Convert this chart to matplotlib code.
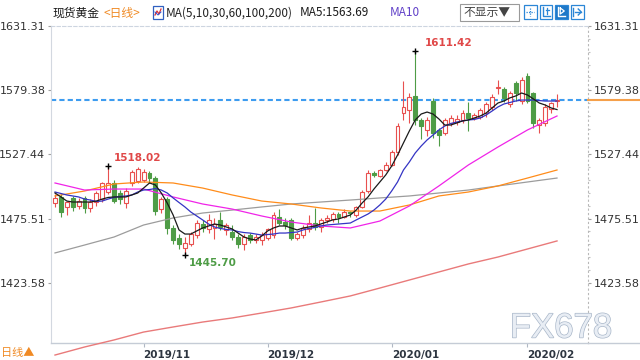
import numpy as np
import matplotlib
matplotlib.use('Agg')
import matplotlib.pyplot as plt
from matplotlib.patches import Rectangle
from matplotlib.lines import Line2D
import matplotlib.patheffects as pe
import matplotlib.transforms as mtransforms

plt.rcParams['font.family'] = ['DejaVu Sans']
CJK = ['Noto Sans CJK SC', 'DejaVu Sans']

# ---------------- data ----------------
title_name = "现货黄金"
period_text = "<日线>"
ma_spec = "MA(5,10,30,60,100,200)"
ma5_text = "MA5:1563.69"
ma10_text = "MA10"
btn_text = "不显示▼"
bottom_text = "日线▲"
watermark = "FX678"

month_labels = ["2019/11", "2019/12", "2020/01", "2020/02"]
month_idx = [15, 36, 57, 80]
ytick_vals = [1423.58, 1475.51, 1527.44, 1579.38, 1631.31]
ytick_labels = ["1423.58", "1475.51", "1527.44", "1579.38", "1631.31"]
last_price = 1571.4

opens = [1488, 1493, 1485, 1492, 1486, 1492, 1484, 1489, 1491, 1497,
         1504, 1496, 1488, 1504, 1506, 1507, 1512, 1508, 1483, 1491,
         1468, 1460, 1452, 1455, 1462, 1471, 1467, 1468, 1474, 1466,
         1465, 1461, 1455, 1462, 1458, 1458, 1460, 1462, 1477, 1473,
         1474, 1460, 1462, 1467, 1472, 1469, 1474, 1475, 1479, 1477,
         1481, 1478, 1485, 1498, 1512, 1510, 1515, 1519, 1529, 1561,
         1563, 1575, 1555, 1547, 1571, 1547, 1545, 1553, 1554, 1555,
         1561, 1557, 1558, 1561, 1566, 1581, 1580, 1568, 1585, 1571,
         1591, 1577, 1551, 1553, 1564, 1571]
highs = [1495, 1495, 1490, 1494, 1492, 1494, 1491, 1498, 1505, 1518.02,
         1507, 1499, 1500, 1515, 1517, 1516, 1514, 1510, 1493, 1493,
         1470, 1463, 1461, 1465, 1474, 1474, 1479, 1476, 1481, 1472,
         1470, 1463, 1463, 1464, 1463, 1465, 1468, 1481, 1483, 1476,
         1476, 1465, 1470, 1478, 1484, 1476, 1478, 1481, 1481, 1483,
         1482, 1486, 1499, 1515, 1514, 1516, 1521, 1531, 1553, 1587,
         1577, 1611.42, 1557, 1558, 1573, 1549, 1557, 1559, 1559, 1563,
         1570, 1561, 1565, 1570, 1576, 1588, 1582, 1579, 1587, 1590,
         1593, 1578, 1557, 1568, 1570, 1576]
lows = [1485, 1477, 1478, 1482, 1483, 1480, 1481, 1486, 1489, 1495,
        1488, 1487, 1484, 1502, 1504, 1505, 1504, 1478, 1480, 1463,
        1455, 1451, 1445.70, 1453, 1460, 1465, 1464, 1459, 1466, 1462,
        1458, 1452, 1450, 1456, 1456, 1454, 1458, 1460, 1470, 1467,
        1458, 1458, 1460, 1465, 1466, 1465, 1472, 1473, 1472, 1476,
        1477, 1477, 1484, 1496, 1509, 1509, 1514, 1518, 1527, 1555,
        1553, 1551, 1540, 1542, 1541, 1534, 1543, 1550, 1551, 1553,
        1546, 1555, 1556, 1558, 1563, 1576, 1570, 1566, 1571, 1568,
        1569, 1549, 1545, 1550, 1561, 1566]
closes = [1492, 1481, 1489, 1485, 1490, 1484, 1489, 1496, 1504, 1504,
          1490, 1491, 1498, 1513, 1516, 1513, 1508, 1482, 1491, 1468,
          1458, 1455, 1456, 1463, 1472, 1468, 1474, 1471, 1469, 1470,
          1461, 1455, 1461, 1458, 1461, 1462, 1467, 1478, 1472, 1470,
          1460, 1463, 1468, 1472, 1469, 1474, 1476, 1479, 1477, 1481,
          1480, 1485, 1497, 1512, 1511, 1515, 1519, 1529, 1550, 1566,
          1574, 1555, 1550, 1555, 1545, 1543, 1555, 1557, 1556, 1561,
          1557, 1559, 1563, 1568, 1574, 1582, 1573, 1577, 1577, 1588,
          1571, 1553, 1555, 1566, 1569, 1571.4]

# MA5 / MA10 read at every candle
ma5 = [1496.2, 1493.0, 1489.7, 1488.9, 1488.9, 1488.9, 1488.9, 1489.7, 1491.3, 1492.6,
       1493.0, 1493.0, 1493.0, 1494.6, 1496.2, 1500.2, 1504.3, 1502.7, 1496.2, 1488.1,
       1478.4, 1466.3, 1463.0, 1463.0, 1465.5, 1467.9, 1469.5, 1471.1, 1470.3, 1468.7,
       1467.1, 1463.8, 1460.6, 1459.0, 1458.2, 1461.4, 1465.5, 1467.9, 1469.5, 1469.5,
       1467.9, 1466.3, 1467.9, 1468.7, 1469.5, 1471.1, 1472.7, 1474.4, 1475.2, 1476.8,
       1478.4, 1482.4, 1488.1, 1493.0, 1499.4, 1505.1, 1510.8, 1518.0, 1526.9, 1536.7,
       1546.4, 1555.3, 1560.1, 1561.7, 1560.1, 1556.1, 1551.2, 1551.2, 1552.8, 1554.5,
       1555.3, 1556.9, 1558.5, 1560.9, 1565.0, 1569.0, 1570.6, 1573.1, 1574.7, 1577.1,
       1575.5, 1572.3, 1569.0, 1567.4, 1565.0, 1563.69]
ma10 = [1497.0, 1495.8, 1494.6, 1493.8, 1493.0, 1491.3, 1490.5, 1489.3, 1489.7, 1491.3,
        1492.6, 1493.4, 1493.8, 1494.6, 1497.0, 1498.6, 1499.0, 1499.8, 1498.6, 1496.2,
        1492.2, 1488.5, 1484.9, 1480.8, 1477.6, 1474.4, 1471.1, 1468.7, 1467.5, 1466.7,
        1466.3, 1465.0, 1464.2, 1463.8, 1463.0, 1462.2, 1462.6, 1463.0, 1463.8, 1463.8,
        1464.2, 1464.6, 1466.3, 1467.5, 1468.3, 1469.5, 1470.3, 1470.7, 1471.1, 1471.5,
        1471.9, 1474.4, 1476.8, 1479.2, 1482.4, 1486.5, 1491.3, 1497.8, 1505.1, 1514.8,
        1521.3, 1528.6, 1534.2, 1539.1, 1543.1, 1547.2, 1550.4, 1552.4, 1553.6, 1554.5,
        1555.3, 1555.7, 1556.9, 1559.3, 1562.5, 1565.8, 1568.2, 1569.4, 1570.6, 1571.4,
        1571.4, 1571.4, 1571.0, 1570.6, 1570.6, 1570.6]
# long MAs read at every 5th candle (0, 5, ..., 85)
ma_step = 5
ma30 = [1504.3, 1498.6, 1499.4, 1499.4, 1493.0, 1487.3, 1483.2, 1477.6, 1472.7,
        1469.5, 1467.9, 1473.5, 1485.7, 1501.9, 1518.9, 1533.4, 1547.2, 1558.5]
ma60 = [1493.8, 1497.8, 1503.5, 1505.1, 1504.3, 1500.2, 1494.6, 1489.7, 1487.3,
        1484.1, 1481.6, 1481.6, 1486.5, 1493.8, 1497.0, 1501.9, 1508.3, 1514.8]
ma100 = [1447.7, 1454.1, 1460.6, 1470.3, 1476.0, 1480.0, 1482.4, 1484.9, 1487.3,
         1488.9, 1490.5, 1492.2, 1493.8, 1496.2, 1498.6, 1501.9, 1505.1, 1508.3]
ma200 = [1365.1, 1371.6, 1377.3, 1383.7, 1387.8, 1391.8, 1395.1, 1399.1, 1403.2,
         1408.0, 1412.9, 1419.3, 1425.8, 1432.3, 1438.8, 1444.4, 1450.9, 1457.4]

# ---------------- layout ----------------
W, H = 640, 360
L, R, T, B = 51, 588, 26, 343
X0, DX = 55, 5.906  # pixel of first candle, candle spacing


def fx(x):
    return x / W


def fy(y):
    return 1 - y / H


fig = plt.figure(figsize=(6.4, 3.6), dpi=100)
fig.patch.set_facecolor('white')
ax = fig.add_axes([fx(L), fy(B), (R - L) / W, (B - T) / H])
ax.set_facecolor('white')

n = len(closes)
idx = np.arange(n)
ax.set_xlim((L - X0) / DX, (R - X0) / DX)
ax.set_ylim(1631.31 - (B - T) / 1.236, 1631.31)

up_col = '#e8504f'
dn_col = '#4e9c46'
o = np.array(opens); c = np.array(closes)
hi = np.array(highs); lo = np.array(lows)
is_up = c >= o
cols = np.where(is_up, up_col, dn_col)

ax.axhline(last_price, color='#3d9cf0', lw=1.5, ls=(0, (2.5, 1.5)), zorder=1.5)

ax.vlines(idx, lo, hi, colors=cols, lw=0.8, zorder=2)
bottoms = np.minimum(o, c)
heights = np.maximum(np.abs(c - o), 0.25)
faces = np.where(is_up, 'white', dn_col)
ax.bar(idx, heights, 0.66, bottoms, color=faces, edgecolor=cols, linewidth=0.8, zorder=3)

idx_long = np.arange(0, n, ma_step)
ax.plot(idx_long, ma200, color='#e97a7a', lw=1.0, zorder=4, clip_on=False)
ax.plot(idx_long, ma100, color='#9c9c9c', lw=0.9, zorder=4)
ax.plot(idx_long, ma60, color='#ff8c1a', lw=0.9, zorder=4)
ax.plot(idx_long, ma30, color='#f024e8', lw=0.9, zorder=4)
ax.plot(idx, ma10, color='#3434c4', lw=0.9, zorder=5)
ax.plot(idx, ma5, color='#1a1a1a', lw=0.9, zorder=5)

# extreme markers
ext = [(9, 1518.02, '1518.02', '#e04848', (4.3, 5.8)),
       (61, 1611.42, '1611.42', '#e04848', (7.2, 5.8)),
       (22, 1445.70, '1445.70', '#4e9c46', (2.9, -5.8))]
for i, v, s, col, off in ext:
    ax.plot(i, v, marker='+', color='black', ms=5, mew=1, zorder=6)
    ax.annotate(s, (i, v), xytext=off, textcoords='offset points', color=col,
                fontsize=7.5, fontweight='bold', ha='left', va='center', zorder=7)

# spines
ax.spines['top'].set_linestyle((0, (3, 2)))
ax.spines['top'].set_color('#cdd5e0')
ax.spines['top'].set_linewidth(0.8)
ax.spines['left'].set_color('#d3d8e0')
ax.spines['left'].set_linewidth(0.8)
ax.spines['bottom'].set_color('#c5ccd6')
ax.spines['bottom'].set_linewidth(1.0)
ax.spines['right'].set_linestyle((0, (1, 3)))
ax.spines['right'].set_color('#b8b8b8')
ax.spines['right'].set_linewidth(0.8)

ax.set_yticks(ytick_vals)
ax.set_yticklabels(ytick_labels)
ax.tick_params(axis='y', which='major', left=True, right=True, labelleft=True,
               labelright=True, length=2.5, color='#a0a0a0', labelsize=8,
               labelcolor='#333333', pad=1.5, width=0.8)
minor = []
for a, b in zip(ytick_vals[:-1], ytick_vals[1:]):
    minor += list(np.linspace(a, b, 6)[1:-1])
ax.set_yticks(minor, minor=True)
ax.tick_params(axis='y', which='minor', left=False, right=True, length=1.5,
               color='#c0c0c0', width=0.8)

ax.set_xticks(month_idx)
ax.set_xticklabels(month_labels)
for lab in ax.get_xticklabels():
    lab.set_ha('left')
ax.tick_params(axis='x', length=3, color='#b0b8c4', labelsize=7.5,
               labelcolor='#2d3540', pad=2, width=0.8)
for lab in ax.get_xticklabels():
    lab.set_fontweight('bold')

# bottom line extension and right price marker
fig.add_artist(Line2D([fx(R), 1.0], [fy(B), fy(B)], transform=fig.transFigure,
                      color='#c5ccd6', lw=1.0))
blend = mtransforms.blended_transform_factory(fig.transFigure, ax.transData)
fig.add_artist(Line2D([fx(R), 1.0], [last_price, last_price], transform=blend,
                      color='#f5a04a', lw=1.5))

# header
ty = fy(13)
fig.text(fx(53), ty, title_name, family=CJK, fontsize=8.5, color='#1a1a1a', va='center')
fig.text(fx(103), ty, period_text, family=CJK, fontsize=8.5, color='#f08a24', va='center')
fig.text(fx(166), ty, ma_spec, family=CJK, fontsize=8.5, color='#222222', va='center')
fig.text(fx(300), ty, ma5_text, family=CJK, fontsize=8.5, color='#1a1a1a', va='center')
fig.text(fx(390), ty, ma10_text, family=CJK, fontsize=8.5, color='#6040c8', va='center')

# header icon
fig.add_artist(Rectangle((fx(153), fy(19)), 10 / W, 13 / H, transform=fig.transFigure,
                         facecolor='white', edgecolor='#3060c0', lw=0.9))
fig.add_artist(Line2D([fx(155), fx(157), fx(159), fx(161)], [fy(15), fy(11), fy(14), fy(9)],
                      transform=fig.transFigure, color='#e03030', lw=0.9))
fig.add_artist(Line2D([fx(155), fx(158), fx(161)], [fy(12), fy(15), fy(12)],
                      transform=fig.transFigure, color='#3050d0', lw=0.7))

# buttons
fig.add_artist(Rectangle((fx(460), fy(21)), 59 / W, 17 / H, transform=fig.transFigure,
                         facecolor='white', edgecolor='#9a9a9a', lw=0.8))
fig.text(fx(463), fy(12.5), btn_text, family=CJK, fontsize=8.5, color='#444444', va='center')
bx = [524, 539.5, 555, 571]
for k, x in enumerate(bx):
    filled = (k == 2)
    fig.add_artist(Rectangle((fx(x), fy(19)), 12.5 / W, 14 / H, transform=fig.transFigure,
                             facecolor='#1e78c8' if filled else 'white',
                             edgecolor='#2b86d6', lw=0.9))
    ic = 'white' if filled else '#2b86d6'
    cx, cy = x + 6.25, 12
    if k == 0:
        fig.add_artist(Line2D([fx(cx - 4), fx(cx + 4)], [fy(cy), fy(cy)], transform=fig.transFigure, color=ic, lw=0.9, ls=(0, (1, 1))))
        fig.add_artist(Line2D([fx(cx), fx(cx)], [fy(cy - 4), fy(cy + 4)], transform=fig.transFigure, color=ic, lw=0.9, ls=(0, (1, 1))))
    elif k == 1:
        fig.add_artist(Line2D([fx(cx - 3), fx(cx - 3), fx(cx + 4)], [fy(cy - 5), fy(cy + 4), fy(cy + 4)], transform=fig.transFigure, color=ic, lw=1.0))
        fig.add_artist(Line2D([fx(cx), fx(cx + 3)], [fy(cy - 2), fy(cy - 2)], transform=fig.transFigure, color=ic, lw=0.9))
        fig.add_artist(Line2D([fx(cx + 1.5), fx(cx + 1.5)], [fy(cy - 4), fy(cy + 2)], transform=fig.transFigure, color=ic, lw=0.9))
    elif k == 2:
        fig.add_artist(Line2D([fx(cx - 3), fx(cx - 3), fx(cx + 4)], [fy(cy - 5), fy(cy + 4), fy(cy + 4)], transform=fig.transFigure, color=ic, lw=1.0))
        fig.add_artist(Line2D([fx(cx - 1), fx(cx + 3), fx(cx - 1), fx(cx - 1)], [fy(cy - 4), fy(cy - 1), fy(cy + 2), fy(cy - 4)], transform=fig.transFigure, color=ic, lw=0.9))
    else:
        fig.add_artist(Line2D([fx(cx - 4), fx(cx - 4)], [fy(cy - 4), fy(cy + 4)], transform=fig.transFigure, color=ic, lw=1.0))
        fig.add_artist(Line2D([fx(cx - 2), fx(cx + 4)], [fy(cy), fy(cy)], transform=fig.transFigure, color=ic, lw=1.0))
        fig.add_artist(Line2D([fx(cx + 1), fx(cx + 4), fx(cx + 1)], [fy(cy - 3), fy(cy), fy(cy + 3)], transform=fig.transFigure, color=ic, lw=1.0))

# bottom-left period label
fig.text(fx(1), fy(353), bottom_text, family=CJK, fontsize=8, color='#f08a24', va='center')

# watermark
fig.text(fx(561), fy(328), watermark, family=['Liberation Sans', 'DejaVu Sans'],
         fontsize=25, color='#e8edf4', ha='center', va='center', zorder=0.5,
         path_effects=[pe.withStroke(linewidth=1.0, foreground='#a9b7c9')])

fig.savefig('out.png', dpi=100, facecolor='white')
